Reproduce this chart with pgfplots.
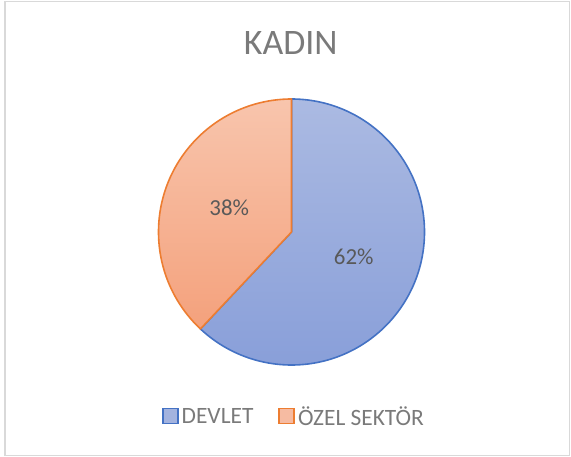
\documentclass[border=0pt]{standalone}
\usepackage{pgfplots}
\pgfplotsset{compat=1.18}
\usepackage{pgfplotstable}
\usepackage{fontspec}
\setmainfont{Carlito}
\definecolor{bluedge}{HTML}{4472C4}
\definecolor{blutop}{HTML}{ABBAE2}
\definecolor{blubot}{HTML}{899FD9}
\definecolor{blumid}{HTML}{A3B3DF}
\definecolor{oredge}{HTML}{ED7D31}
\definecolor{ortop}{HTML}{F8C5AD}
\definecolor{orbot}{HTML}{F4A17C}
\definecolor{ormid}{HTML}{F6BBA2}
\definecolor{bordergray}{HTML}{D9D9D9}
\definecolor{titlegray}{HTML}{7A7A7A}
\definecolor{labelgray}{HTML}{595959}

\pgfplotstableread{
value
62
38
}\piedata

\begin{document}
\begin{tikzpicture}
\pgfplotstablegetelem{0}{value}\of\piedata \edef\va{\pgfplotsretval}
\pgfplotstablegetelem{1}{value}\of\piedata \edef\vb{\pgfplotsretval}
\pgfmathsetmacro{\aend}{90-\va*3.6}
\pgfmathsetmacro{\amida}{90-\va*1.8}
\pgfmathsetmacro{\amidb}{\aend-\vb*1.8}
\pgfmathsetmacro{\bend}{\aend-\vb*3.6}
\begin{axis}[x=1bp,y=1bp,xmin=0,xmax=571,ymin=0,ymax=457,hide axis,clip=false,
  legend style={at={(0.5158,0.0875)},anchor=center,draw=none,fill=none,
    font=\fontsize{23.5}{27}\selectfont,text=titlegray,
    nodes={inner xsep=3bp},
    /tikz/every even column/.append style={column sep=22bp}},
  legend columns=2,
  legend image code/.code={\draw[#1,line width=1.6bp] (0bp,-6.5bp) rectangle (15bp,8.5bp);},
]
\draw[bordergray,line width=1.5bp] (axis cs:5,1.5) rectangle (axis cs:569.5,455.5);
\draw[bluedge,line width=1.6bp,top color=blutop,bottom color=blubot,line join=round]
  (axis cs:291.5,225) -- ++(90:133bp) arc[start angle=90,end angle=\aend,radius=133bp] -- cycle;
\draw[oredge,line width=1.6bp,top color=ortop,bottom color=orbot,line join=round]
  (axis cs:291.5,225) -- ++(\aend:133bp) arc[start angle=\aend,end angle=\bend,radius=133bp] -- cycle;
\node[font=\fontsize{23}{27}\selectfont,text=labelgray,shift={(\amida:67bp)}] at (axis cs:291.5,225) {\va\%};
\node[font=\fontsize{23}{27}\selectfont,text=labelgray,shift={(\amidb:67bp)}] at (axis cs:291.5,225) {\vb\%};
\node[font=\fontsize{36}{40}\selectfont,text=titlegray,anchor=base] at (axis cs:290.8,402) {KADIN};
\addlegendimage{draw=bluedge,fill=blumid}
\addlegendentry{DEVLET}
\addlegendimage{draw=oredge,fill=ormid}
\addlegendentry{ÖZEL SEKTÖR}
\end{axis}
\pgfresetboundingbox
\path (0,0) rectangle (571bp,457bp);
\end{tikzpicture}
\end{document}
